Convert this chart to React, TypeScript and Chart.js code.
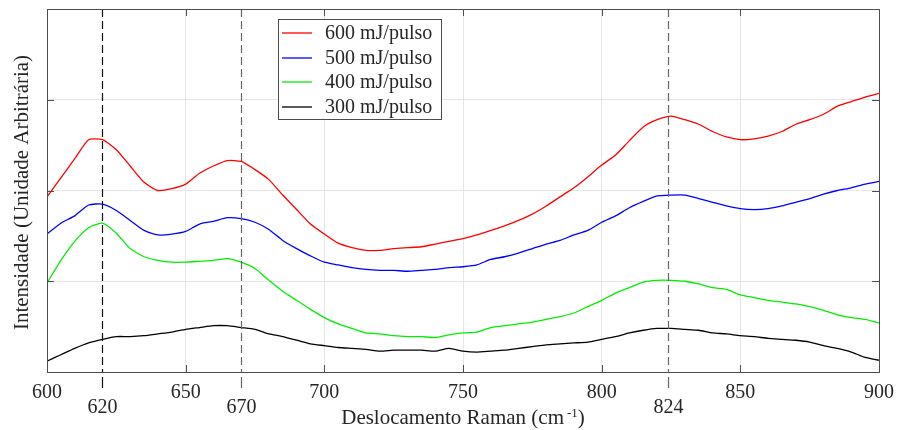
import React, { useEffect, useRef } from "react";
import { Chart, registerables } from "chart.js";

Chart.register(...registerables);

const ramanShift = [
  600, 605, 610, 615, 620, 625, 630, 635, 640, 645, 650,
  655, 660, 665, 670, 675, 680, 685, 690, 695, 700,
  705, 710, 715, 720, 725, 730, 735, 740, 745, 750,
  755, 760, 765, 770, 775, 780, 785, 790, 795, 800,
  805, 810, 815, 820, 825, 830, 835, 840, 845, 850,
  855, 860, 865, 870, 875, 880, 885, 890, 895, 900,
];

const s600 = [
  1.93, 2.14, 2.35, 2.56, 2.56, 2.45, 2.27, 2.09, 2.0, 2.02, 2.07,
  2.19, 2.27, 2.33, 2.32, 2.23, 2.12, 1.95, 1.79, 1.63, 1.52,
  1.42, 1.37, 1.34, 1.34, 1.36, 1.37, 1.38, 1.41, 1.44, 1.47,
  1.51, 1.56, 1.61, 1.67, 1.74, 1.83, 1.93, 2.03, 2.15, 2.28,
  2.39, 2.55, 2.7, 2.78, 2.82, 2.78, 2.73, 2.65, 2.59, 2.56,
  2.57, 2.6, 2.65, 2.73, 2.78, 2.84, 2.93, 2.98, 3.03, 3.07,
];

const s500 = [
  1.52, 1.64, 1.72, 1.84, 1.85, 1.78, 1.67, 1.56, 1.51, 1.52, 1.55,
  1.63, 1.66, 1.7, 1.69, 1.65, 1.57, 1.45, 1.36, 1.28, 1.21,
  1.18, 1.15, 1.13, 1.12, 1.12, 1.11, 1.12, 1.13, 1.15, 1.16,
  1.18, 1.24, 1.27, 1.31, 1.36, 1.41, 1.45, 1.51, 1.56, 1.65,
  1.72, 1.81, 1.88, 1.94, 1.95, 1.95, 1.91, 1.87, 1.83, 1.8,
  1.79, 1.8, 1.83, 1.87, 1.91, 1.96, 2.0, 2.03, 2.07, 2.1,
];

const s400 = [
  0.98, 1.23, 1.44, 1.59, 1.64, 1.53, 1.36, 1.27, 1.23, 1.21, 1.21,
  1.22, 1.23, 1.25, 1.21, 1.14, 1.01, 0.89, 0.79, 0.69, 0.6,
  0.53, 0.48, 0.43, 0.42, 0.4, 0.39, 0.39, 0.38, 0.41, 0.43,
  0.44, 0.49, 0.51, 0.53, 0.55, 0.58, 0.61, 0.65, 0.72, 0.79,
  0.87, 0.93, 0.99, 1.01, 1.01, 1.0, 0.97, 0.93, 0.91, 0.85,
  0.82, 0.79, 0.77, 0.75, 0.72, 0.68, 0.63, 0.6, 0.58, 0.54,
];

const s300 = [
  0.12, 0.19, 0.26, 0.32, 0.36, 0.39, 0.39, 0.4, 0.42, 0.44, 0.47,
  0.49, 0.51, 0.51, 0.49, 0.47, 0.42, 0.39, 0.35, 0.31, 0.29,
  0.27, 0.26, 0.25, 0.23, 0.24, 0.24, 0.24, 0.23, 0.26, 0.23,
  0.22, 0.23, 0.24, 0.26, 0.28, 0.3, 0.31, 0.32, 0.33, 0.36,
  0.39, 0.43, 0.46, 0.48, 0.48, 0.47, 0.46, 0.43, 0.42, 0.4,
  0.39, 0.37, 0.36, 0.35, 0.33, 0.29, 0.26, 0.22, 0.16, 0.13,
];

const seriesLabels = ["600 mJ/pulso", "500 mJ/pulso", "400 mJ/pulso", "300 mJ/pulso"];
const seriesColors = ["#ff0000", "#0000ff", "#00ee00", "#000000"];
const seriesValues = [s600, s500, s400, s300];

const markerPositions = [620, 670, 824];
const markerColors = ["#111111", "#666666", "#666666"];

const xTitle = "Deslocamento Raman (cm";
const xTitleSup = "-1";
const yTitle = "Intensidade (Unidade Arbitrária)";

const FONT = '"Liberation Serif", "Times New Roman", serif';
const TEXT = "#262626";

const decor = {
  id: "decor",
  afterDatasetsDraw(chart: any) {
    const { ctx, chartArea, scales } = chart;
    const { left, right, top, bottom } = chartArea;
    const x = scales.x;
    const y = scales.y;
    ctx.save();

    // dashed reference lines
    markerPositions.forEach((v, i) => {
      const px = Math.round(x.getPixelForValue(v)) + 0.5;
      ctx.strokeStyle = markerColors[i];
      ctx.lineWidth = 1.2;
      ctx.setLineDash([8, 4]);
      ctx.beginPath();
      ctx.moveTo(px, top);
      ctx.lineTo(px, bottom);
      ctx.stroke();
      ctx.setLineDash([]);
      ctx.beginPath();
      ctx.moveTo(px, bottom + 5);
      ctx.lineTo(px, bottom + 16);
      ctx.stroke();
      ctx.fillStyle = TEXT;
      ctx.font = `20px ${FONT}`;
      ctx.textAlign = "center";
      ctx.textBaseline = "middle";
      ctx.fillText(String(v), px, bottom + 36);
    });

    // frame
    ctx.strokeStyle = "#4d4d4d";
    ctx.lineWidth = 1;
    ctx.strokeRect(Math.round(left) + 0.5, Math.round(top) + 0.5, Math.round(right - left), Math.round(bottom - top));

    // inward ticks
    const tl = 7;
    x.ticks.forEach((t: any) => {
      const px = Math.round(x.getPixelForValue(t.value)) + 0.5;
      ctx.beginPath();
      ctx.moveTo(px, bottom);
      ctx.lineTo(px, bottom - tl);
      ctx.moveTo(px, top);
      ctx.lineTo(px, top + tl);
      ctx.stroke();
    });
    y.ticks.forEach((t: any) => {
      const py = Math.round(y.getPixelForValue(t.value)) + 0.5;
      ctx.beginPath();
      ctx.moveTo(left, py);
      ctx.lineTo(left + tl, py);
      ctx.moveTo(right, py);
      ctx.lineTo(right - tl, py);
      ctx.stroke();
    });

    // x title with superscript
    ctx.fillStyle = TEXT;
    ctx.textBaseline = "alphabetic";
    ctx.textAlign = "left";
    ctx.font = `21px ${FONT}`;
    const w1 = ctx.measureText(xTitle).width;
    ctx.font = `13px ${FONT}`;
    const wSup = ctx.measureText(xTitleSup).width;
    ctx.font = `21px ${FONT}`;
    const wClose = ctx.measureText(")").width;
    const gap = 3;
    const total = w1 + gap + wSup + wClose;
    const cx = (left + right) / 2;
    const base = bottom + 52;
    let sx = cx - total / 2;
    ctx.fillText(xTitle, sx, base);
    sx += w1 + gap;
    ctx.font = `13px ${FONT}`;
    ctx.fillText(xTitleSup, sx, base - 7);
    sx += wSup;
    ctx.font = `21px ${FONT}`;
    ctx.fillText(")", sx, base);

    // y title
    ctx.save();
    ctx.translate(22, (top + bottom) / 2 + 2);
    ctx.rotate(-Math.PI / 2);
    ctx.textAlign = "center";
    ctx.textBaseline = "middle";
    ctx.font = `21px ${FONT}`;
    ctx.fillText(yTitle, 0, 0);
    ctx.restore();

    // legend
    const lx = 278.5;
    const ly = 19.5;
    const lw = 163;
    const lh = 100;
    ctx.fillStyle = "#ffffff";
    ctx.fillRect(lx, ly, lw, lh);
    ctx.strokeStyle = "#4d4d4d";
    ctx.lineWidth = 1;
    ctx.strokeRect(lx, ly, lw, lh);
    const rows = [33, 58, 82, 107];
    seriesLabels.forEach((lab, i) => {
      ctx.strokeStyle = seriesColors[i];
      ctx.lineWidth = 1.3;
      ctx.beginPath();
      ctx.moveTo(282, rows[i]);
      ctx.lineTo(312, rows[i]);
      ctx.stroke();
      ctx.fillStyle = TEXT;
      ctx.font = `20px ${FONT}`;
      ctx.textAlign = "left";
      ctx.textBaseline = "middle";
      ctx.fillText(lab, 325, rows[i] + 1);
    });

    ctx.restore();
  },
};

export default function App() {
  const ref = useRef<HTMLCanvasElement>(null);
  useEffect(() => {
    const chart = new Chart(ref.current as HTMLCanvasElement, {
      type: "line",
      data: {
        datasets: seriesValues.map((vals, i) => ({
          label: seriesLabels[i],
          data: vals.map((v, j) => ({ x: ramanShift[j], y: v })),
          borderColor: seriesColors[i],
          backgroundColor: seriesColors[i],
          borderWidth: 1.3,
          pointRadius: 0,
          tension: 0.2,
          fill: false,
        })),
      },
      options: {
        animation: false,
        responsive: false,
        devicePixelRatio: 1,
        layout: { padding: { left: 47, right: 19, top: 9, bottom: 0 } },
        plugins: { legend: { display: false }, tooltip: { enabled: false } },
        scales: {
          x: {
            type: "linear",
            min: 600,
            max: 900,
            ticks: {
              stepSize: 50,
              color: TEXT,
              font: { family: FONT, size: 20 },
              padding: 9,
              maxRotation: 0,
              autoSkip: false,
            },
            grid: { color: "#e6e6e6", drawTicks: false, lineWidth: 1 },
            border: { display: false },
            afterFit(s: any) {
              s.height = 58;
              s.paddingLeft = 0;
              s.paddingRight = 0;
            },
          },
          y: {
            min: 0,
            max: 4,
            ticks: { display: false, stepSize: 1 },
            grid: { color: "#e6e6e6", drawTicks: false, lineWidth: 1 },
            border: { display: false },
            afterFit(s: any) {
              s.width = 0;
            },
          },
        },
      },
      plugins: [decor],
    });
    return () => chart.destroy();
  }, []);
  return (
    <div style={{ position: "fixed", left: 0, top: 0, width: 898, height: 430, background: "#fff" }}>
      <canvas ref={ref} width={898} height={430} style={{ display: "block", width: 898, height: 430 }} />
    </div>
  );
}
